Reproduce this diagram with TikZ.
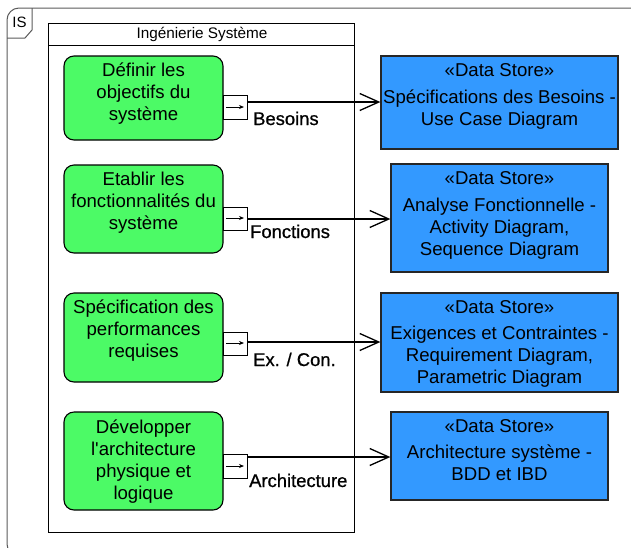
\documentclass[tikz,border=0pt]{standalone}
\usepackage{fontspec}
\setmainfont{Liberation Sans}
\newfontface\lblfont{Liberation Sans}[FakeBold=0.8]
\usetikzlibrary{arrows.meta}
\definecolor{actgreen}{RGB}{76,250,102}
\definecolor{storeblue}{RGB}{51,153,255}
\definecolor{framegray}{RGB}{90,90,90}
\newcommand{\straightquote}{\XeTeXglyph\XeTeXcharglyph"0027\relax}
\begin{document}
\begin{tikzpicture}[x=1pt,y=-1pt,
  action/.style={draw=black,line width=1.1pt,fill=actgreen,rounded corners=10pt},
  pinbox/.style={draw=black,line width=0.8pt,fill=white},
  store/.style={draw=black!85,line width=1.3pt,fill=storeblue},
  btext/.style={font=\fontsize{18.6}{22}\selectfont,align=center,inner sep=0pt,anchor=north},
  lbl/.style={font=\lblfont\fontsize{18.4}{22}\selectfont,inner sep=0pt,anchor=base west},
  flow/.style={line width=1.3pt,-{Straight Barb[length=19pt,width=17pt,line width=1.3pt]}},
  pinarrow/.style={line width=0.8pt,-{Stealth[length=5pt,width=4pt]}}
]
\useasboundingbox (0,0) rectangle (631,547);
% outer frame
\draw[framegray,line width=1pt,rounded corners=12pt] (7,8) rectangle (642,556);
\draw[framegray,line width=1pt] (32,8) -- (32,30) -- (25,38) -- (7,38);
\node[font=\fontsize{15}{18}\selectfont,inner sep=0pt] (is) at (19.5,22) {IS};
% inner block
\draw[black,line width=1pt] (48,23) rectangle (354,532);
\draw[black,line width=1pt] (48,45) -- (354,45);
\node[font=\fontsize{15.3}{18}\selectfont,inner sep=0pt] (title) at (202,34.5) {Ingénierie Système};
% green actions
\path[action] (64,56) rectangle (223,140);
\path[action] (64,165) rectangle (223,253);
\path[action] (64,293) rectangle (223,382);
\path[action] (64,412) rectangle (223,510);
\node[btext] (a1) at (143.5,62.5) {Définir les\\objectifs du\\système};
\node[btext] (a2) at (143.5,171.5) {Etablir les\\fonctionnalités du\\système};
\node[btext] (a3) at (143.5,299.5) {Spécification des\\performances\\requises};
\node[btext] (a4) at (143.5,419.5) {Développer\\l\straightquote architecture\\physique et\\logique};
% pins
\draw[pinbox] (223,95) rectangle (247,119);
\draw[pinbox] (223,207) rectangle (247,230);
\draw[pinbox] (223,332) rectangle (247,355);
\draw[pinbox] (223,454) rectangle (247,478);
\coordinate (i1a) at (226,107); \coordinate (i1b) at (244,107);
\coordinate (i2a) at (226,218); \coordinate (i2b) at (244,218);
\coordinate (i3a) at (226,343); \coordinate (i3b) at (244,343);
\coordinate (i4a) at (226,466); \coordinate (i4b) at (244,466);
\draw[pinarrow] (i1a) -- (i1b);
\draw[pinarrow] (i2a) -- (i2b);
\draw[pinarrow] (i3a) -- (i3b);
\draw[pinarrow] (i4a) -- (i4b);
% data stores
\node[store,minimum width=237pt,minimum height=93pt,inner sep=0pt] (b1) at (499.5,102.5) {};
\node[store,minimum width=217pt,minimum height=108pt,inner sep=0pt] (b2) at (499.5,218) {};
\node[store,minimum width=237pt,minimum height=99pt,inner sep=0pt] (b3) at (499.5,342.5) {};
\node[store,minimum width=217pt,minimum height=88pt,inner sep=0pt] (b4) at (499.5,456) {};
\node[btext] (t1) at (499.5,63.5) {«Data Store»\\[5pt]Spécifications des Besoins -\\Use Case Diagram};
\node[btext] (t2) at (499.5,171.5) {«Data Store»\\[5pt]Analyse Fonctionnelle -\\Activity Diagram,\\Sequence Diagram};
\node[btext] (t3) at (499.5,300.5) {«Data Store»\\[4pt]Exigences et Contraintes -\\Requirement Diagram,\\Parametric Diagram};
\node[btext] (t4) at (499.5,419.5) {«Data Store»\\[4pt]Architecture système -\\BDD et IBD};
% flows
\coordinate (s1) at (247,102);
\coordinate (s2) at (247,219);
\coordinate (s3) at (247,342);
\coordinate (s4) at (247,457);
\draw[flow] (s1) -- (s1 -| b1.west);
\draw[flow] (s2) -- (s2 -| b2.west);
\draw[flow] (s3) -- (s3 -| b3.west);
\draw[flow] (s4) -- (s4 -| b4.west);
\node[lbl] (l1) at (253,125) {Besoins};
\node[lbl] (l2) at (250,238) {Fonctions};
\node[lbl] (l3) at (253,366) {Ex. / Con.};
\node[lbl] (l4) at (249,487) {Architecture};
\end{tikzpicture}
\end{document}
